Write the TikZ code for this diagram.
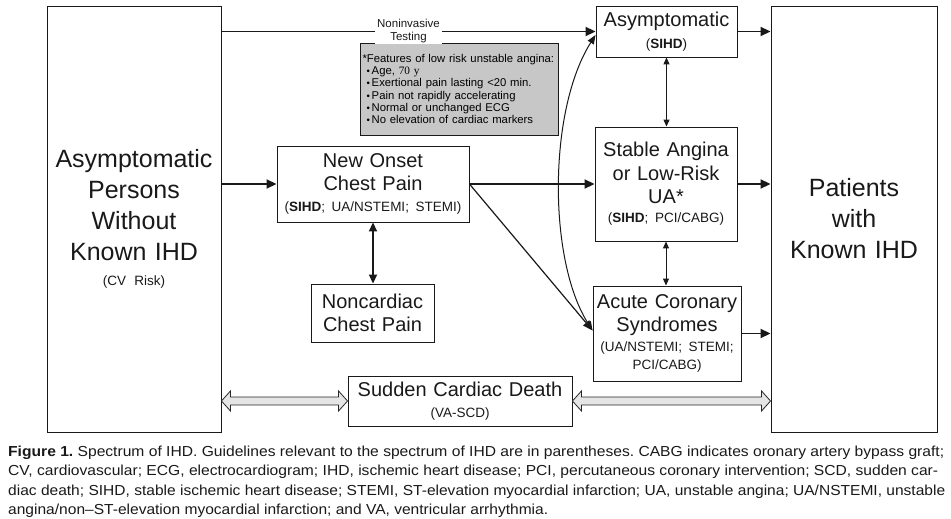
\documentclass[tikz,border=0pt]{standalone}
\usepackage{fontspec}
\usepackage{graphicx}
\setmainfont{Liberation Sans}
\newfontfamily\serifnum{Liberation Serif}
\newfontfamily\capfont{Liberation Sans}
\usetikzlibrary{arrows.meta,calc}
\newcommand\fbig{\fontsize{25}{31}\selectfont}
\newcommand\fmid{\fontsize{20}{23.5}\selectfont}
\newcommand\fsm{\fontsize{13.5}{16}\selectfont}
\newcommand\fnote{\fontsize{11.5}{13}\selectfont}
\newcommand\fgray{\fontsize{11.3}{12.3}\selectfont}
\newcommand\fcap{\fontsize{14.5}{17}\selectfont}
\newcommand\bul{\scalebox{0.85}{\textbullet}\,}
\newcommand\hollowdbl[2]{%
  \draw[hollow] let \p1=(#1), \p2=(#2) in
    (\x1,\y1) -- ({\x1+9pt},{\y1+10pt}) -- ({\x1+9pt},{\y1+4pt}) --
    ({\x2-9pt},{\y2+4pt}) -- ({\x2-9pt},{\y2+10pt}) -- (\x2,\y2) --
    ({\x2-9pt},{\y2-10pt}) -- ({\x2-9pt},{\y2-4pt}) --
    ({\x1+9pt},{\y1-4pt}) -- ({\x1+9pt},{\y1-10pt}) -- cycle;}
\begin{document}
\frenchspacing
\begin{tikzpicture}[x=1pt,y=-1pt,
  box/.style={draw=black!90, line width=0.9pt, inner xsep=2pt, inner ysep=0pt, align=center, text=black!90},
  graybox/.style={draw=black!90, line width=0.9pt, fill=black!22, inner xsep=2.5pt, inner ysep=0pt, align=left, text width=193pt, minimum height=92pt, font=\fgray},
  thickarr/.style={line width=1.8pt, draw=black!90, -{Triangle[length=10pt,width=9pt]}},
  medarr/.style={line width=1.2pt, draw=black!90, -{Triangle[length=10pt,width=8pt]}},
  curvearr/.style={line width=1pt, draw=black!90, {Triangle[length=9pt,width=7pt]}-{Triangle[length=9pt,width=7pt]}},
  thinarr/.style={line width=1pt, draw=black!90, {Triangle[length=7pt,width=6pt]}-{Triangle[length=7pt,width=6pt]}},
  thickdbl/.style={line width=1.8pt, draw=black!90, {Triangle[length=9pt,width=8pt]}-{Triangle[length=9pt,width=8pt]}},
  hollow/.style={draw=black!85, line width=0.8pt, fill=black!10, line join=miter},
  notelbl/.style={fill=white, font=\fnote, align=center, inner xsep=2pt, inner ysep=1pt, text=black!90},
  caption/.style={anchor=base west, inner sep=0pt, font=\capfont\fcap, text=black!90}
]
\useasboundingbox (0,0) rectangle (951,519);

% boxes
\node[box, text width=170pt, minimum height=426pt, font=\fbig] (L) at (134,219)
  {Asymptomatic\\Persons\\Without\\Known IHD\\[-6pt]{\fsm (CV Risk)}};
\node[box, text width=162pt, minimum height=426pt, font=\fbig] (R) at (854,219)
  {Patients\\with\\Known IHD};
\node[box, text width=137pt, minimum height=51pt, font=\fmid] (Asym) at (666.5,31.5)
  {Asymptomatic\\[-1.5pt]{\fsm(\textbf{SIHD})}};
\node[box, text width=138pt, minimum height=114pt, font=\fmid] (Stable) at (666,184)
  {Stable Angina\\or Low-Risk\\UA*\\[-4.5pt]{\fsm(\textbf{SIHD}; PCI/CABG)}};
\node[box, text width=144pt, minimum height=95pt, font=\fmid] (ACS) at (667,333.5)
  {Acute Coronary\\Syndromes\\[-3.5pt]{\fsm(UA/NSTEMI; STEMI;}\\[-5.5pt]{\fsm PCI/CABG)}};
\node[box, text width=188pt, minimum height=76pt, font=\fmid] (NO) at (373,184)
  {New Onset\\Chest Pain\\[-2.5pt]{\fsm(\textbf{SIHD}; UA/NSTEMI; STEMI)}};
\node[box, text width=119pt, minimum height=58pt, font=\fmid] (NC) at (372.5,313)
  {Noncardiac\\Chest Pain};
\node[box, text width=220pt, minimum height=50pt, font=\fmid] (SCD) at (460,401)
  {Sudden Cardiac Death\\[-2.5pt]{\fsm(VA-SCD)}};
\node[graybox] (G) at (459,89)
  {*Features of low risk unstable angina:\\
   \hspace*{4pt}\bul Age, {\serifnum 70 y}\\
   \hspace*{4pt}\bul Exertional pain lasting <20 min.\\
   \hspace*{4pt}\bul Pain not rapidly accelerating\\
   \hspace*{4pt}\bul Normal or unchanged ECG\\
   \hspace*{4pt}\bul No elevation of cardiac markers};

% connectors
\draw[thickarr] (L.east |- Asym.west) -- node[notelbl] (nit) {Noninvasive\\Testing} (Asym.west);
\draw[thickarr] (Asym.east) -- (R.west |- Asym.east);
\draw[thickarr] (Stable.east) -- (R.west |- Stable.east);
\draw[thickarr] (ACS.east) -- (R.west |- ACS.east);
\draw[thickarr] (L.east |- NO.west) -- (NO.west);
\draw[thickarr] (NO.east) -- (Stable.west);
\draw[medarr] (NO.east) -- ([yshift=3pt]ACS.west);
\draw[curvearr] ([yshift=3pt]ACS.west) .. controls (548,260) and (548,110) .. ([yshift=-3.5pt]Asym.west);
\draw[thinarr] (Asym.south) -- (Asym.south |- Stable.north);
\draw[thinarr] (Stable.south) -- (Stable.south |- ACS.north);
\draw[thickdbl] (NO.south) -- (NO.south |- NC.north);
\hollowdbl{L.east |- SCD.west}{SCD.west}
\hollowdbl{SCD.east}{R.west |- SCD.east}

% caption
\node[caption] (cap1) at (8,456) {\resizebox{936pt}{\height}{\textbf{Figure 1.} Spectrum of IHD. Guidelines relevant to the spectrum of IHD are in parentheses. CABG indicates oronary artery bypass graft;}};
\node[caption] (cap2) at (8,475.5) {\resizebox{930pt}{\height}{CV, cardiovascular; ECG, electrocardiogram; IHD, ischemic heart disease; PCI, percutaneous coronary intervention; SCD, sudden car-}};
\node[caption] (cap3) at (8,495) {\resizebox{937pt}{\height}{diac death; SIHD, stable ischemic heart disease; STEMI, ST-elevation myocardial infarction; UA, unstable angina; UA/NSTEMI, unstable}};
\node[caption] (cap4) at (8,514.5) {\resizebox{540pt}{\height}{angina/non–ST-elevation myocardial infarction; and VA, ventricular arrhythmia.}};
\end{tikzpicture}
\end{document}
